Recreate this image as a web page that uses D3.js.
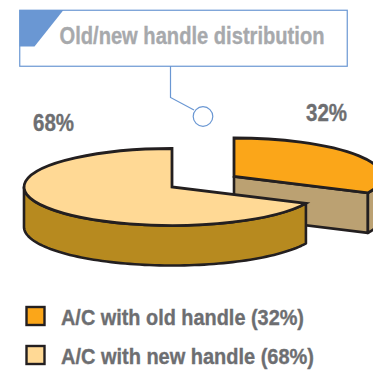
<!DOCTYPE html>
<html><head><meta charset="utf-8">
<script src="https://cdn.jsdelivr.net/npm/d3@7/dist/d3.min.js"></script>
<style>html,body{margin:0;padding:0;background:#fff;overflow:hidden}
svg{display:block}
text{font-family:"Liberation Sans",sans-serif;font-weight:700;stroke-width:.35;paint-order:stroke}
</style></head><body><svg id="c" width="373" height="371"></svg>
<script>
const categories = ["A/C with old handle (32%)", "A/C with new handle (68%)"];
const shares = [32, 68];
const valueLabels = ["32%", "68%"];
const titleText = "Old/new handle distribution";
const topColors = ["#fba619", "#ffd995"];
const wallColors = ["#bba172", "#b78a1f"];
const ink = "#231f20", blue = "#6a97d3";

const svg = d3.select("#c");
const W = 373, H = 371;
const clipId = "page";
svg.append("clipPath").attr("id", clipId).append("rect").attr("width", W).attr("height", H);

// callout
svg.append("rect").attr("x", 19.75).attr("y", 10.25).attr("width", 327.5).attr("height", 56)
  .attr("fill", "#fff").attr("stroke", blue).attr("stroke-width", 1.2);
svg.append("path").attr("d", "M19.5,10 L63.5,10 L34.5,46.5 L19.5,46.5 Z").attr("fill", blue);
svg.append("text").attr("x", 59.5).attr("y", 44).attr("font-size", 23.5)
  .attr("textLength", 265).attr("lengthAdjust", "spacingAndGlyphs")
  .attr("fill", "#a7a9ac").attr("stroke", "#a7a9ac").text(titleText);
svg.append("path").attr("d", "M170.5,66 L170.5,97.5 L194,110").attr("fill", "none").attr("stroke", blue).attr("stroke-width", 1.2);
svg.append("circle").attr("cx", 203).attr("cy", 116.5).attr("r", 9.8).attr("fill", "#fff").attr("stroke", blue).attr("stroke-width", 1.2);

// pie
const rx = 148, ry = 38.5, depth = 40;
const centers = [[234, 176.5], [172, 187]];
const arcs = d3.pie().sort(null)(shares);
const x = (i, a) => centers[i][0] + rx * Math.sin(a);
const y = (i, a) => centers[i][1] - ry * Math.cos(a);
const unit = d3.arc().innerRadius(0).outerRadius(rx);
const line = d3.line();

function wallPts(i, a0, a1) {
  const n = 80, top = [], bot = [];
  for (let k = 0; k <= n; k++) {
    const a = a0 + (a1 - a0) * k / n;
    top.push([x(i, a), y(i, a)]);
    bot.push([x(i, a), y(i, a) + depth]);
  }
  return top.concat(bot.reverse());
}
const g = svg.append("g").attr("clip-path", `url(#${clipId})`);
const wallStyle = s => s.attr("stroke", ink).attr("stroke-width", 2.6).attr("stroke-linejoin", "round");

arcs.forEach((d, i) => {
  const c = centers[i];
  const grp = g.append("g");
  if (i === 0) {
    // cut face running from the centre to the slice's far corner
    const ex = x(0, d.endAngle), ey = y(0, d.endAngle);
    grp.append("path").attr("d", line([[c[0], c[1]], [ex, ey], [ex, ey + depth], [c[0], c[1] + depth]]) + "Z")
      .attr("fill", wallColors[0]).call(wallStyle);
    grp.append("path").attr("d", line(wallPts(0, Math.PI / 2, d.endAngle)) + "Z")
      .attr("fill", wallColors[0]).call(wallStyle);
  } else {
    grp.append("path").attr("d", line(wallPts(1, d.startAngle, 1.5 * Math.PI)) + "Z")
      .attr("fill", wallColors[1]).call(wallStyle);
  }
  grp.append("path").attr("d", unit(d))
    .attr("transform", `translate(${c[0]},${c[1]}) scale(1,${ry / rx})`)
    .attr("fill", topColors[i]).attr("stroke", ink).attr("stroke-width", 2.8)
    .attr("stroke-linejoin", "miter").attr("vector-effect", "non-scaling-stroke");
});

// value labels
svg.selectAll("text.v").data(valueLabels).join("text").attr("class", "v")
  .attr("x", (d, i) => [306, 33][i]).attr("y", (d, i) => [121, 131][i])
  .attr("font-size", 23.5).attr("textLength", 41).attr("lengthAdjust", "spacingAndGlyphs")
  .attr("fill", "#6d6e71").attr("stroke", "#6d6e71").text(d => d);

// legend
const legendY = d3.scalePoint().domain(categories).range([315.5, 354.5]);
const lg = svg.selectAll("g.l").data(categories).join("g").attr("class", "l")
  .attr("transform", d => `translate(0,${legendY(d)})`);
lg.append("rect").attr("x", 26.5).attr("y", -8.5).attr("width", 18).attr("height", 18)
  .attr("fill", (d, i) => topColors[i]).attr("stroke", ink).attr("stroke-width", 2.4);
lg.append("text").attr("x", 61).attr("y", 9).attr("font-size", 22)
  .attr("textLength", (d, i) => [243, 253][i]).attr("lengthAdjust", "spacingAndGlyphs")
  .attr("fill", "#6d6e71").attr("stroke", "#6d6e71").text(d => d);
</script></body></html>
